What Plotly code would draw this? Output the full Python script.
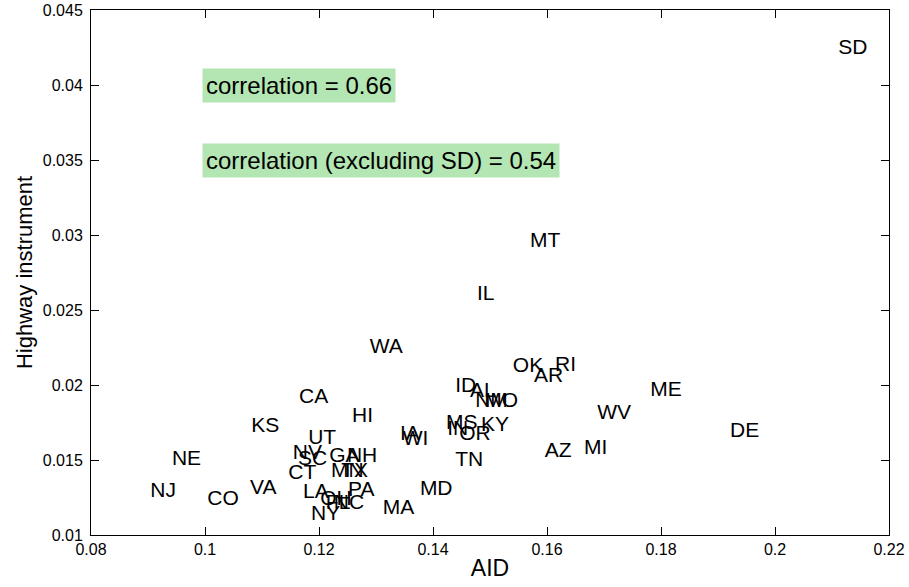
import plotly.graph_objects as go

states = ["SD", "MT", "IL", "WA", "OK", "RI", "AR", "ID", "AL", "NM", "MO",
          "MS", "IN", "KY", "OR", "IA", "WI", "TN", "AZ", "MI", "WV", "ME",
          "DE", "CA", "HI", "KS", "UT", "NV", "SC", "GA", "NH", "CT", "MN",
          "TX", "LA", "PA", "OH", "FL", "NC", "NY", "MA", "MD", "VA", "CO",
          "NE", "NJ"]
aid = [0.2111, 0.1570, 0.1477, 0.1289, 0.1540, 0.1614, 0.1577, 0.1439, 0.1465, 0.1474, 0.1490,
       0.1423, 0.1425, 0.1484, 0.1446, 0.1342, 0.1347, 0.1439, 0.1596, 0.1665, 0.1688, 0.1781,
       0.1921, 0.1165, 0.1258, 0.1081, 0.1181, 0.1154, 0.1163, 0.1218, 0.1249, 0.1146, 0.1221,
       0.1239, 0.1172, 0.1251, 0.1202, 0.1212, 0.1226, 0.1186, 0.1312, 0.1377, 0.1079, 0.1004,
       0.0942, 0.0904]
highway = [0.04240, 0.02955, 0.02600, 0.0225, 0.02120, 0.0213, 0.02055, 0.0199, 0.01955, 0.0189, 0.0189,
           0.01740, 0.01700, 0.0173, 0.0167, 0.0167, 0.01635, 0.01495, 0.01555, 0.01575, 0.0181, 0.01960,
           0.0169, 0.01915, 0.0179, 0.01720, 0.01640, 0.01540, 0.01500, 0.01520, 0.01520, 0.0141, 0.01420,
           0.01420, 0.01280, 0.01297, 0.01235, 0.0121, 0.0121, 0.01135, 0.01175, 0.01300, 0.0131, 0.01235,
           0.01500, 0.0129]

x_ticks = [0.08, 0.10, 0.12, 0.14, 0.16, 0.18, 0.20, 0.22]
x_tick_labels = ["0.08", "0.1", "0.12", "0.14", "0.16", "0.18", "0.2", "0.22"]
y_ticks = [0.01, 0.015, 0.02, 0.025, 0.03, 0.035, 0.04, 0.045]
y_tick_labels = ["0.01", "0.015", "0.02", "0.025", "0.03", "0.035", "0.04", "0.045"]

corr_texts = ["correlation = 0.66", "correlation (excluding SD) = 0.54"]
corr_x = [0.0995, 0.0995]
corr_y = [0.04, 0.035]

FONT = "Liberation Sans, Arial, sans-serif"

fig = go.Figure()
fig.add_trace(go.Scatter(
    x=aid, y=highway, text=states, mode="text",
    textposition="middle right",
    textfont=dict(family=FONT, size=21, color="black"),
    hoverinfo="text", showlegend=False,
))

for t, cx, cy in zip(corr_texts, corr_x, corr_y):
    fig.add_annotation(
        x=cx, y=cy, xref="x", yref="y", text=t, showarrow=False,
        xanchor="left", yanchor="middle",
        font=dict(family=FONT, size=24, color="black"),
        bgcolor="#b3e6b3", borderpad=3,
    )

axis_common = dict(
    showgrid=False, zeroline=False, showline=True, linecolor="black", linewidth=1,
    mirror="ticks", ticks="inside", ticklen=8, tickwidth=1, tickcolor="black",
    tickfont=dict(family=FONT, size=16, color="black"),
    automargin=False,
)

fig.update_xaxes(range=[0.08, 0.22], tickvals=x_ticks, ticktext=x_tick_labels,
                 title=dict(text="AID", font=dict(family=FONT, size=23, color="black"), standoff=2),
                 **axis_common)
fig.update_yaxes(range=[0.01, 0.045], tickvals=y_ticks, ticktext=y_tick_labels,
                 title=dict(text="Highway instrument", font=dict(family=FONT, size=22, color="black"), standoff=4),
                 ticklabelstandoff=4,
                 **axis_common)

fig.update_layout(
    width=909, height=587,
    margin=dict(l=91, r=20, t=10, b=52),
    plot_bgcolor="white", paper_bgcolor="white",
)

fig.write_html("out.html", config={"displayModeBar": False},
               post_script="document.body.style.margin='0';document.body.style.overflow='hidden';")
